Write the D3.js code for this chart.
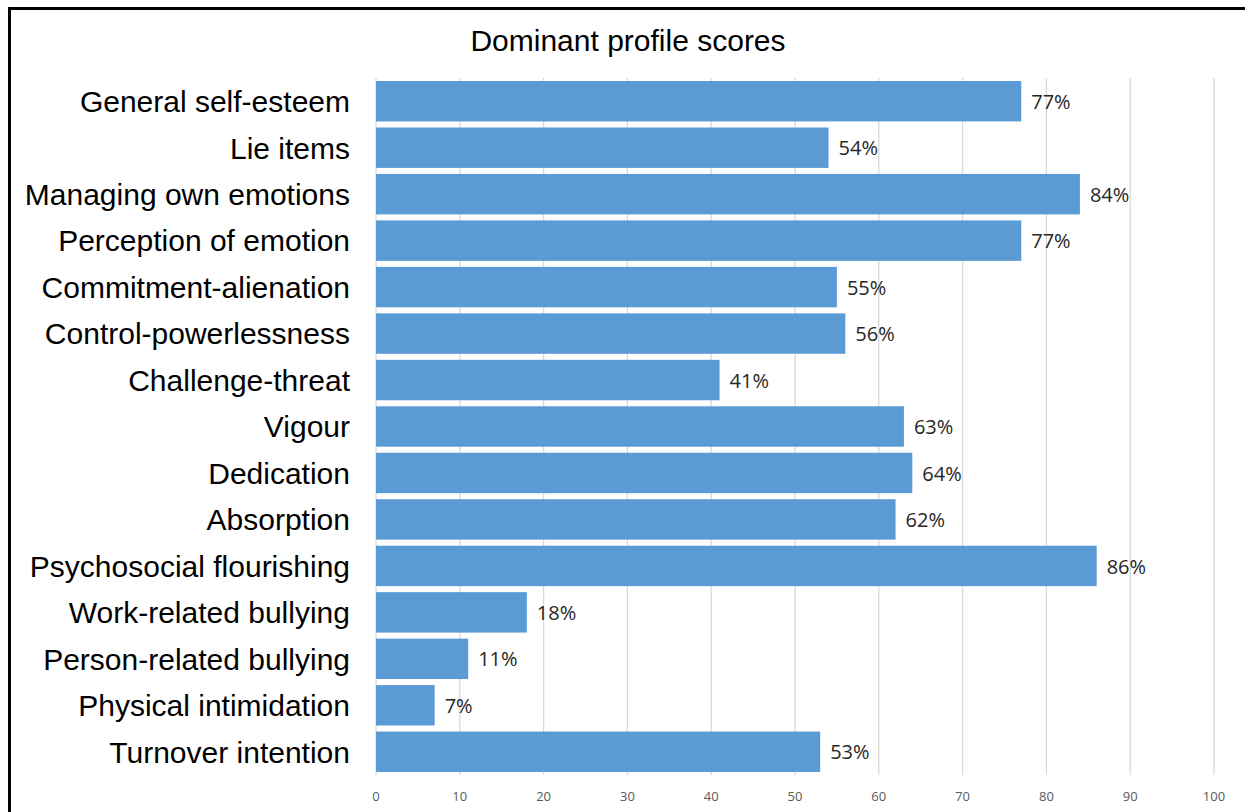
<!DOCTYPE html>
<html>
<head>
<meta charset="utf-8">
<script src="https://cdn.jsdelivr.net/npm/d3@7"></script>
<style>
  body { margin: 0; background: #fff; }
</style>
</head>
<body>
<svg></svg>
<script>
// Chart data
var categories = ["General self-esteem", "Lie items", "Managing own emotions", "Perception of emotion",
    "Commitment-alienation", "Control-powerlessness", "Challenge-threat", "Vigour", "Dedication",
    "Absorption", "Psychosocial flourishing", "Work-related bullying", "Person-related bullying",
    "Physical intimidation", "Turnover intention"]
var scores = [77, 54, 84, 77, 55, 56, 41, 63, 64, 62, 86, 18, 11, 7, 53]
var xTicks = [0, 10, 20, 30, 40, 50, 60, 70, 80, 90, 100]

var width = 1245,
    height = 812

var svg = d3.select("svg")
    .attr("width", width)
    .attr("height", height)

// Outer frame
svg.append("rect")
    .attr("x", 9.5)
    .attr("y", 8.5)
    .attr("width", width + 10)
    .attr("height", height + 10)
    .style("fill", "none")
    .style("stroke", "#000")
    .style("stroke-width", "3px")

var x = d3.scaleLinear()
    .domain([0, 100])
    .range([376, 1214])

var y = d3.scaleBand()
    .domain(categories)
    .range([78, 775])
    .paddingInner(0.13)
    .paddingOuter(0.065)

// Gridlines
svg.append("g")
    .selectAll("line")
    .data(xTicks)
    .enter().append("line")
    .attr("x1", function(d) { return x(d) })
    .attr("x2", function(d) { return x(d) })
    .attr("y1", 78)
    .attr("y2", 775)
    .style("stroke", "#d9d9d9")
    .style("stroke-width", "1.3px")

// Tick labels
svg.append("g")
    .selectAll("text")
    .data(xTicks)
    .enter().append("text")
    .attr("x", function(d) { return x(d) })
    .attr("y", 801)
    .attr("text-anchor", "middle")
    .style("font", "13px 'Open Sans', sans-serif")
    .style("fill", "#595959")
    .text(function(d) { return d })

// Bars
svg.append("g")
    .selectAll("rect")
    .data(scores)
    .enter().append("rect")
    .attr("x", x(0))
    .attr("y", function(d, i) { return y(categories[i]) })
    .attr("width", function(d) { return x(d) - x(0) })
    .attr("height", y.bandwidth())
    .style("fill", "#5b9bd5")

// Value labels
svg.append("g")
    .selectAll("text")
    .data(scores)
    .enter().append("text")
    .attr("x", function(d) { return x(d) + 10 })
    .attr("y", function(d, i) { return y(categories[i]) + y.bandwidth() / 2 })
    .attr("dy", "0.38em")
    .style("font", "20px 'Open Sans', sans-serif")
    .style("fill", "#262626")
    .text(function(d) { return d + "%" })

// Category labels
svg.append("g")
    .selectAll("text")
    .data(categories)
    .enter().append("text")
    .attr("x", 350)
    .attr("y", function(d) { return y(d) + y.bandwidth() / 2 })
    .attr("dy", "0.36em")
    .attr("text-anchor", "end")
    .style("font", "30px 'Liberation Sans', Arial, sans-serif")
    .style("fill", "#000")
    .text(function(d) { return d })

// Title
svg.append("text")
    .attr("x", 628)
    .attr("y", 51)
    .attr("text-anchor", "middle")
    .style("font", "30px 'Liberation Sans', Arial, sans-serif")
    .style("fill", "#000")
    .text("Dominant profile scores")
</script>
</body>
</html>
